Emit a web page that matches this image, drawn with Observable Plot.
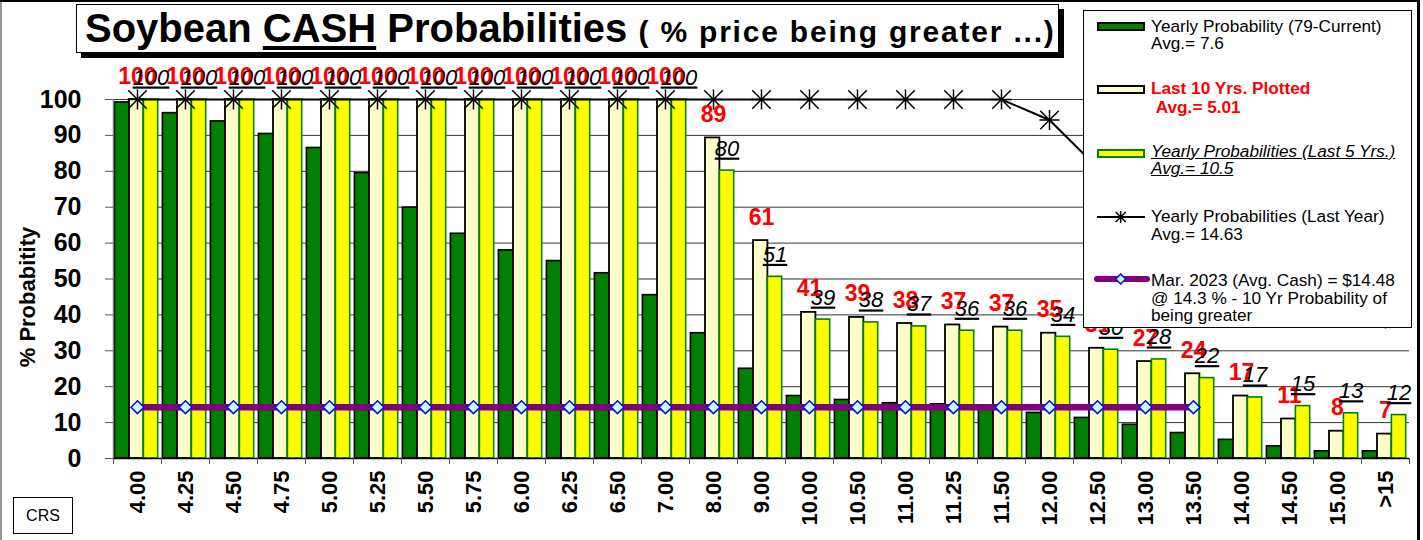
<!DOCTYPE html>
<html><head><meta charset="utf-8">
<script src="https://cdn.jsdelivr.net/npm/d3@7"></script>
<script src="https://cdn.jsdelivr.net/npm/@observablehq/plot@0.6"></script>
<style>
body{margin:0;background:#fff;}
#wrap{position:relative;width:1423px;height:540px;overflow:hidden;font-family:"Liberation Sans",Arial,sans-serif;background:#fff;}
#chart{position:absolute;left:0;top:0;}
#chart svg{overflow:visible;}
#chart g[font-style="italic"] text{text-decoration:underline;text-decoration-thickness:2px;text-underline-offset:3px;}
.abs{position:absolute;white-space:nowrap;}
.box{position:absolute;background:#fff;border:1px solid #000;box-sizing:border-box;}
.lg{position:absolute;white-space:nowrap;font-size:17.2px;color:#000;}
.sw{position:absolute;box-sizing:border-box;width:48px;height:9px;border:2px solid #000;}
</style></head>
<body>
<div id="wrap">
  <div id="chart"></div>
  <div class="abs" style="left:0;top:0;width:2px;height:540px;background:#999;"></div>
  <div class="abs" style="left:0;top:0;width:1420px;height:2px;background:#000;"></div>
  <div class="abs" style="left:1417px;top:0;width:3px;height:540px;background:#000;"></div>

  <div class="box" style="left:76px;top:4px;width:983px;height:49px;box-shadow:5px 5px 0 #000;"></div>
  <div class="abs" id="title" style="left:85px;top:4px;font-weight:bold;font-size:40px;line-height:49px;">Soybean <u style="text-decoration-thickness:4px;text-underline-offset:4px;">CASH</u> Probabilities <span style="font-size:30px;letter-spacing:1.8px;">( % price being greater ...)</span></div>

  <div class="abs" id="ylab" style="left:28px;top:297px;font-weight:bold;font-size:22px;transform:translate(-50%,-50%) rotate(-90deg);">% Probabitity</div>

  <div class="box" style="left:13px;top:497px;width:60px;height:37px;font-size:16px;text-align:center;line-height:35px;">CRS</div>

  <div class="box" style="left:1083px;top:10px;width:329px;height:318px;"></div>
  <div class="sw" style="left:1097px;top:22px;background:#008000;"></div>
  <div class="lg" style="left:1151px;top:17.5px;line-height:17px;">Yearly Probability (79-Current)<br>Avg.= 7.6</div>
  <div class="sw" style="left:1097px;top:85px;background:#FFFFCC;"></div>
  <div class="lg" style="left:1151px;top:79px;line-height:19px;color:#FF0000;font-weight:bold;">Last 10 Yrs. Plotted<br>&nbsp;Avg.= 5.01</div>
  <div class="sw" style="left:1097px;top:149px;background:#FFFF00;border-color:#008000;"></div>
  <div class="lg" style="left:1151px;top:142.7px;line-height:17.7px;font-style:italic;text-decoration:underline;">Yearly Probabilities (Last 5 Yrs.)<br>Avg.= 10.5</div>
  <svg class="abs" style="left:1095px;top:205px;" width="54" height="24">
    <line x1="2" y1="12" x2="50" y2="12" stroke="#000" stroke-width="2"/>
    <path d="M25.7,6V18M20.7,7L30.7,17M20.7,17L30.7,7" stroke="#000" stroke-width="1.5"/>
  </svg>
  <div class="lg" style="left:1151px;top:208.3px;line-height:17.3px;">Yearly Probabilities (Last Year)<br>Avg.= 14.63</div>
  <svg class="abs" style="left:1093px;top:269px;" width="58" height="20">
    <line x1="4" y1="10" x2="54" y2="10" stroke="#800080" stroke-width="6" stroke-linecap="round"/>
    <path d="M27.7,5L32.7,10L27.7,15L22.7,10Z" fill="#CCFFFF" stroke="#0000FF" stroke-width="1.5"/>
  </svg>
  <div class="lg" style="left:1151px;top:272.2px;line-height:17.5px;">Mar. 2023 (Avg. Cash) = $14.48<br>@ 14.3 % - 10 Yr Probability of<br>being greater</div>
</div>
<script>
const categories = ["4.00","4.25","4.50","4.75","5.00","5.25","5.50","5.75","6.00","6.25","6.50","7.00","8.00","9.00","10.00","10.50","11.00","11.25","11.50","12.00","12.50","13.00","13.50","14.00","14.50","15.00",">15"];
const yearlySince79 = [99.2,96.2,93.9,90.4,86.5,79.5,69.9,62.6,58.0,55.0,51.6,45.5,34.9,25.0,17.4,16.3,15.4,15.1,14.2,12.7,11.3,9.4,7.1,5.2,3.4,2.0,2.0];
const last10Years = [100,100,100,100,100,100,100,100,100,100,100,100,89.3,60.7,40.7,39.3,37.6,37.2,36.6,34.9,30.7,27.0,23.6,17.4,11.0,7.6,6.8];
const last5Years = [100,100,100,100,100,100,100,100,100,100,100,100,80.2,50.6,38.7,37.9,36.8,35.6,35.6,33.9,30.3,27.6,22.4,17.0,14.6,12.6,12.1];
const lastYear = [100,100,100,100,100,100,100,100,100,100,100,100,100,100,100,100,100,100,100,94.3,81,66,55,48,44,41,39];
const marchCashCategories = categories.slice(0, 23);
const marchCashProbability = 14.3;
const yTicks = [0,10,20,30,40,50,60,70,80,90,100];

const table = categories.map((c, i) => ({cat: c, all: yearlySince79[i], ten: last10Years[i], five: last5Years[i], ly: lastYear[i]}));
const march = marchCashCategories.map(c => ({cat: c, v: marchCashProbability}));

const chart = Plot.plot({
  width: 1423, height: 540,
  marginLeft: 113, marginRight: 14, marginTop: 99, marginBottom: 82,
  x: {domain: categories, padding: 0},
  y: {domain: [0, 100]},
  style: {fontFamily: "Liberation Sans, Arial, sans-serif", background: "transparent", color: "#000"},
  marks: [
    Plot.gridY({ticks: yTicks.slice(1), stroke: "#000", strokeOpacity: 0.8, strokeWidth: 1}),
    Plot.barY(table, {x: "cat", y: "all", fill: "#008000", stroke: "#000", strokeWidth: 1.6, insetLeft: 1.4, insetRight: 32}),
    Plot.barY(table, {x: "cat", y: "ten", fill: "#FFFFCC", stroke: "#000", strokeWidth: 1.8, insetLeft: 16, insetRight: 17.6}),
    Plot.barY(table, {x: "cat", y: "five", fill: "#FFFF00", stroke: "#008000", strokeWidth: 1.6, insetLeft: 30.4, insetRight: 3.3}),
    Plot.ruleY([0], {stroke: "#000", strokeWidth: 1.5}),
    Plot.ruleX([categories[0]], {y1: 0, y2: 100, dx: -24, stroke: "#777", strokeWidth: 1.5}),
    Plot.axisX({tickSize: 6, tickFormat: () => "", dx: -24, stroke: "#555", label: null}),
    Plot.axisX([categories[categories.length - 1]], {tickSize: 6, tickFormat: () => "", dx: 24, stroke: "#555", label: null}),
    Plot.axisX({tickSize: 0, tickRotate: -90, tickPadding: 12, fontSize: 22, fontWeight: "bold", label: null}),
    Plot.axisY({ticks: yTicks, tickSize: 8, tickPadding: 24, fontSize: 25, fontWeight: "bold", label: null, stroke: "#555"}),
    Plot.line(march, {x: "cat", y: "v", stroke: "#800080", strokeWidth: 6.5}),
    Plot.dot(march, {x: "cat", y: "v", symbol: "diamond2", r: 5.8, fill: "#CCFFFF", stroke: "#0000FF", strokeWidth: 1.5}),
    Plot.line(table, {x: "cat", y: "ly", stroke: "#000", strokeWidth: 2}),
    Plot.dot(table, {x: "cat", y: "ly", symbol: "times", r: 8.5, stroke: "#000", strokeWidth: 1.5}),
    Plot.dot(table, {x: "cat", y: "ly", symbol: "plus", r: 6.5, stroke: "#000", strokeWidth: 1.5}),
    Plot.text(table, {x: "cat", y: "ten", text: d => String(Math.round(d.ten)), fill: "#FF0000", fontWeight: "bold", fontSize: 23, lineAnchor: "bottom", dy: -16}),
    Plot.text(table, {x: "cat", y: "five", text: d => String(Math.round(d.five)), fill: "#000", fontStyle: "italic", fontSize: 22, lineAnchor: "bottom", dx: 13.5, dy: -15})
  ]
});
document.getElementById("chart").appendChild(chart);
</script>
</body></html>
